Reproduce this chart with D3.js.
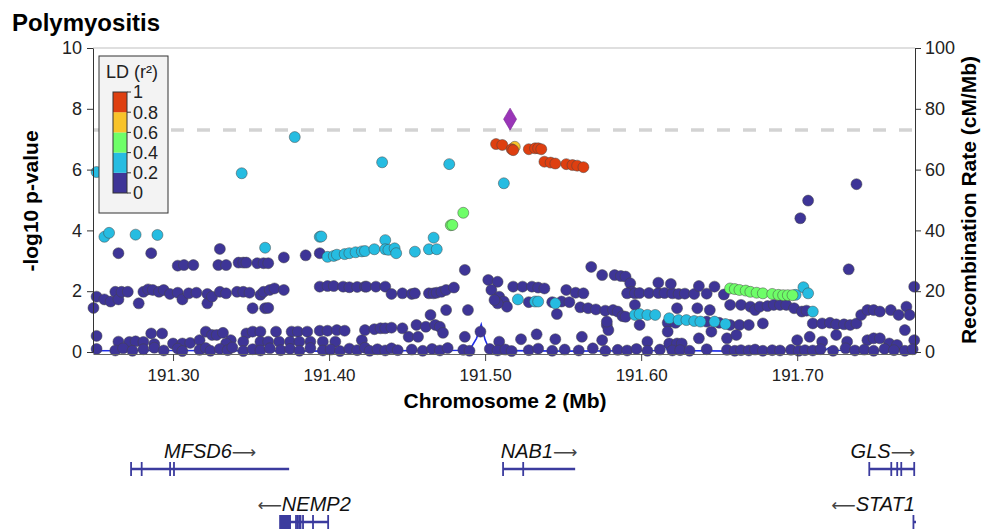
<!DOCTYPE html>
<html>
<head>
<meta charset="utf-8">
<script src="https://cdn.jsdelivr.net/npm/d3@7"></script>
<style>
  body { margin: 0; background: #fff; }
  svg { font-family: "Liberation Sans", Arial, Helvetica, sans-serif; }
</style>
</head>
<body>
<div id="chart"></div>
<script>
// ------------------- DATA ----------------------
// SNPs as [position (Mb), -log10 p], grouped by LD bin with the lead SNP
const ld0 = [
  [191.265,3.25],[191.286,3.25],[191.330,3.39],[191.371,3.11],[191.385,3.18],[191.394,3.25],
  [191.303,2.84],[191.307,2.86],[191.313,2.86],[191.329,2.86],[191.334,2.86],[191.342,2.94],[191.345,2.94],
  [191.347,2.94],[191.354,2.92],[191.358,2.92],[191.361,2.92],
  [191.251,1.82],[191.256,1.73],[191.260,1.66],[191.263,1.98],[191.265,1.73],[191.267,1.98],[191.271,1.98],
  [191.278,1.60],[191.281,1.98],[191.284,2.06],[191.287,2.04],[191.291,1.98],[191.294,2.04],[191.298,1.91],
  [191.303,1.95],[191.306,1.73],[191.310,1.93],[191.315,1.95],[191.322,1.91],[191.322,1.60],[191.325,1.82],
  [191.330,1.98],[191.334,1.93],[191.341,1.98],[191.345,1.98],[191.349,1.95],[191.356,1.88],[191.358,1.98],
  [191.362,2.04],[191.365,2.09],[191.371,2.04],[191.351,1.44],[191.359,1.44],[191.361,1.45],[191.249,1.45],
  [191.394,2.15],[191.399,2.17],[191.403,2.17],[191.409,2.15],[191.413,2.13],[191.418,2.14],[191.423,2.15],
  [191.251,0.53],[191.265,0.34],[191.272,0.33],[191.276,0.35],[191.281,0.33],[191.286,0.61],[191.293,0.61],
  [191.288,0.26],[191.300,0.28],[191.306,0.28],[191.311,0.30],[191.317,0.39],[191.321,0.67],[191.325,0.56],
  [191.328,0.56],[191.332,0.63],[191.337,0.39],[191.334,0.28],[191.347,0.61],[191.351,0.67],[191.356,0.67],
  [191.345,0.34],[191.356,0.34],[191.361,0.34],[191.366,0.67],[191.376,0.67],[191.380,0.67],[191.386,0.67],
  [191.368,0.34],[191.375,0.34],[191.381,0.34],[191.388,0.34],[191.394,0.70],[191.399,0.70],[191.405,0.72],
  [191.410,0.70],[191.396,0.34],[191.404,0.34],[191.421,0.39],[191.423,0.72],
  [191.487,2.70],
  [191.424,2.15],[191.430,2.15],[191.436,2.15],[191.440,1.91],[191.447,1.93],[191.453,1.91],[191.455,1.93],
  [191.464,1.93],[191.467,1.93],[191.469,1.95],[191.472,1.98],[191.475,2.04],[191.480,2.12],
  [191.502,2.37],[191.508,2.31],[191.504,2.04],[191.509,1.82],[191.512,1.66],[191.514,1.49],[191.508,1.60],
  [191.506,1.71],[191.518,2.15],[191.524,2.15],[191.530,2.15],[191.534,2.12],[191.538,2.09],
  [191.552,2.04],[191.558,1.95],[191.563,1.93],
  [191.568,2.80],[191.575,2.53],[191.583,2.53],[191.587,2.50],[191.590,2.48],[191.593,2.26],[191.594,1.98],
  [191.528,1.64],[191.543,1.64],[191.549,1.66],[191.554,1.64],[191.546,1.25],
  [191.561,1.47],[191.566,1.44],[191.571,1.40],[191.577,1.36],[191.582,1.38],[191.585,1.33],[191.588,1.18],
  [191.590,1.16],[191.591,1.93],[191.596,1.93],[191.596,1.55],[191.578,0.89],[191.579,0.72],[191.578,1.00],
  [191.429,0.75],[191.433,0.78],[191.436,0.78],[191.440,0.80],[191.447,0.78],[191.456,0.89],[191.462,0.83],
  [191.468,0.89],[191.471,0.83],[191.473,0.63],[191.465,1.22],[191.475,1.38],[191.489,1.38],[191.451,0.50],
  [191.457,0.50],[191.487,0.50],[191.497,0.67],[191.509,0.34],[191.523,0.42],[191.533,0.58],[191.545,0.42],
  [191.562,0.50],[191.575,0.39],
  [191.738,5.52],[191.707,4.98],[191.702,4.40],[191.733,2.72],
  [191.599,1.94],[191.605,1.94],[191.611,1.94],[191.615,1.94],[191.620,1.93],[191.624,1.91],[191.628,1.92],
  [191.634,1.91],[191.642,1.92],[191.653,1.89],[191.611,2.28],[191.619,2.24],[191.637,2.17],[191.647,2.15],
  [191.657,1.55],[191.664,1.55],[191.670,1.49],[191.673,1.38],[191.676,1.49],[191.681,1.51],[191.685,1.55],
  [191.689,1.55],[191.693,1.55],[191.698,1.44],[191.703,1.33],[191.706,1.36],
  [191.623,1.44],[191.636,1.44],[191.644,1.38],
  [191.599,0.89],[191.617,0.96],[191.617,0.67],[191.622,0.96],[191.642,1.00],[191.650,0.96],[191.657,0.89],
  [191.663,0.89],[191.669,0.89],[191.678,0.94],
  [191.710,0.94],[191.716,0.94],[191.721,0.96],[191.725,0.91],[191.730,0.91],[191.734,0.89],[191.738,0.94],
  [191.741,1.22],[191.745,1.38],[191.749,1.38],[191.753,1.33],[191.760,1.38],[191.765,1.22],[191.770,1.49],
  [191.775,2.15],[191.772,1.22],[191.769,0.72],[191.775,0.39],
  [191.604,0.34],[191.618,0.28],[191.623,0.28],[191.626,0.28],[191.637,0.45],[191.645,0.67],[191.655,0.45],
  [191.661,0.56],[191.700,0.39],[191.708,0.50],[191.716,0.34],[191.725,0.56],[191.732,0.34],[191.745,0.39],
  [191.749,0.45],[191.753,0.45],[191.759,0.28],[191.764,0.23],
  // along the baseline
  [191.251,0.10],[191.263,0.05],[191.268,0.12],[191.274,0.04],[191.281,0.09],[191.288,0.14],[191.294,0.05],
  [191.303,0.11],[191.306,0.03],[191.317,0.07],[191.321,0.13],[191.324,0.04],[191.330,0.10],[191.335,0.06],
  [191.338,0.15],[191.345,0.03],[191.351,0.09],[191.356,0.05],[191.362,0.12],[191.369,0.06],[191.375,0.10],
  [191.381,0.04],[191.388,0.13],[191.396,0.05],[191.401,0.08],[191.407,0.03],[191.413,0.11],[191.418,0.06],
  [191.423,0.14],[191.426,0.04],[191.431,0.09],[191.436,0.05],[191.440,0.12],[191.444,0.06],[191.453,0.08],
  [191.460,0.04],[191.466,0.10],[191.471,0.05],[191.476,0.13],[191.486,0.07],[191.490,0.04],[191.503,0.10],
  [191.508,0.05],[191.513,0.08],[191.517,0.03],[191.528,0.06],[191.534,0.11],[191.543,0.04],[191.551,0.08],
  [191.560,0.05],[191.569,0.12],[191.577,0.04],[191.585,0.07],[191.591,0.05],[191.597,0.10],[191.604,0.04],
  [191.612,0.08],[191.620,0.05],[191.625,0.06],[191.631,0.04],[191.642,0.09],[191.655,0.07],[191.660,0.04],
  [191.664,0.06],[191.669,0.05],[191.673,0.08],[191.678,0.04],[191.684,0.06],[191.689,0.05],[191.696,0.07],
  [191.701,0.04],[191.705,0.06],[191.710,0.05],[191.715,0.09],[191.723,0.04],[191.731,0.12],[191.737,0.05],
  [191.743,0.08],[191.749,0.04],[191.756,0.10],[191.762,0.06],[191.769,0.04],[191.774,0.09]
];
const ld2 = [
  [191.251,5.92],[191.344,5.88],[191.378,7.07],[191.434,6.24],[191.477,6.18],[191.512,5.55],
  [191.256,3.79],[191.259,3.92],[191.276,3.86],[191.290,3.85],[191.394,3.79],[191.395,3.80],[191.359,3.43],
  [191.399,3.13],[191.403,3.16],[191.405,3.20],[191.410,3.22],[191.413,3.25],[191.417,3.28],[191.421,3.31],
  [191.423,3.32],[191.429,3.38],[191.436,3.68],[191.436,3.38],[191.438,3.36],[191.442,3.41],[191.443,3.25],
  [191.455,3.30],[191.464,3.38],[191.467,3.76],[191.469,3.38],
  [191.521,1.73],[191.532,1.66],[191.534,1.66],[191.545,1.60],
  [191.596,1.22],[191.599,1.25],[191.604,1.22],[191.609,1.22],
  [191.618,1.11],[191.624,1.05],[191.629,1.05],[191.634,1.02],[191.638,1.00],[191.647,1.00],[191.654,0.92],
  [191.699,1.88],[191.704,2.13],[191.707,1.93],[191.710,1.33]
];
const ld4 = [
  [191.486,4.58],[191.478,4.17],[191.479,4.18],
  [191.657,2.09],[191.660,2.07],[191.663,2.04],[191.667,2.02],[191.670,1.98],[191.674,1.95],[191.678,1.93],
  [191.684,1.91],[191.688,1.88],[191.691,1.87],[191.694,1.87],[191.697,1.87]
];
const ld6 = [[191.519,6.75]];
const ld8 = [
  [191.507,6.84],[191.511,6.81],[191.517,6.67],[191.518,6.64],[191.528,6.67],[191.532,6.70],[191.534,6.70],
  [191.536,6.67],[191.538,6.26],[191.542,6.23],[191.545,6.20],[191.552,6.18],[191.556,6.15],[191.559,6.13],
  [191.563,6.08]
];
const leadSnp = [191.516, 7.66];

const ldBins = [ld0, ld2, ld4, ld6, ld8];
const ldColors = ["#3e3597", "#26bce1", "#6efe68", "#f8c32a", "#de3f10"];
const ldTicks = [0, 0.2, 0.4, 0.6, 0.8, 1];

const recombPos = [191.249,191.300,191.330,191.400,191.470,191.490,191.4945,191.4975,191.500,191.503,191.550,
                   191.600,191.613,191.615,191.617,191.660,191.700,191.718,191.7205,191.723,191.776];
const recombRate = [0.4,0.5,0.4,0.3,0.5,0.6,4.5,9.0,4.0,0.5,0.3,0.4,0.5,2.2,0.5,0.3,0.5,0.6,1.4,0.6,0.4];

const xTicks = [191.30, 191.40, 191.50, 191.60, 191.70];
const yTicks = [0, 2, 4, 6, 8, 10];
const recombTicks = [0, 20, 40, 60, 80, 100];
const sigLine = 7.3;

const geneNames  = ["MFSD6", "NEMP2", "NAB1", "GLS", "STAT1"];
const geneStart  = [191.2731, 191.3686, 191.5115, 191.7462, 191.7745];
const geneEnd    = [191.3744, 191.3994, 191.5577, 191.7755, 191.8200];
const geneStrand = ["+", "-", "+", "+", "-"];
const geneRow    = [0, 1, 0, 0, 1];
const geneExons  = [
  [[191.2731,191.2731],[191.2799,191.2799],[191.2981,191.2981],[191.3006,191.3006]],
  [[191.3686,191.3750],[191.3788,191.3788],[191.3798,191.3798],[191.3808,191.3808],[191.3817,191.3817],
   [191.3833,191.3833],[191.3897,191.3897],[191.3994,191.3994]],
  [[191.5115,191.5115],[191.5244,191.5244]],
  [[191.7462,191.7462],[191.7603,191.7603],[191.7641,191.7641],[191.7667,191.7667],[191.7750,191.7750]],
  [[191.7745,191.7745]]
];

// ------------------- LAYOUT ----------------------
const W = 987, H = 532;
const pLeft = 93, pRight = 915, pTop = 48, pBottom = 352;
const rowY = [469, 522];

let svg = d3.select("#chart").append("svg")
            .attr("width", W)
            .attr("height", H);

let x = d3.scaleLinear().domain([191.2487, 191.7755]).range([pLeft, pRight]);
let y = d3.scaleLinear().domain([0, 10]).range([pBottom, pTop]);
let yR = d3.scaleLinear().domain([0, 100]).range([pBottom, pTop]);

// title
svg.append("text")
   .attr("x", 12).attr("y", 31)
   .style("font-size", "24px").style("font-weight", "bold")
   .text("Polymyositis");

// top frame line
svg.append("line")
   .attr("x1", pLeft).attr("x2", pRight).attr("y1", pTop).attr("y2", pTop)
   .style("stroke", "#d4d4d4").style("stroke-width", 1.5);

// significance line
svg.append("line")
   .attr("x1", pLeft).attr("x2", pRight).attr("y1", y(sigLine)).attr("y2", y(sigLine))
   .style("stroke", "#d3d3d3").style("stroke-width", 3.5).style("stroke-dasharray", "13,13");

// recombination rate
svg.append("path")
   .datum(recombPos.map((p, i) => [p, recombRate[i]]))
   .attr("d", d3.line().x(d => x(d[0])).y(d => yR(d[1])))
   .style("fill", "none").style("stroke", "#1f2de8").style("stroke-width", 1.6);

// SNPs, low LD first
ldBins.forEach((bin, i) => {
  svg.append("g").selectAll("circle")
     .data(bin)
     .enter()
     .append("circle")
     .attr("cx", d => x(d[0]))
     .attr("cy", d => y(d[1]))
     .attr("r", 5.5)
     .style("fill", ldColors[i])
     .style("stroke", "rgba(70,70,70,0.55)")
     .style("stroke-width", 0.9);
});

// lead SNP diamond
svg.append("path")
   .attr("d", "M0,-11L6.5,0L0,11L-6.5,0Z")
   .attr("transform", "translate(" + x(leadSnp[0]) + "," + y(leadSnp[1]) + ")")
   .style("fill", "#9a35b8").style("stroke", "#7a2a95").style("stroke-width", 0.6);

// axes
let axisFont = g => g.selectAll("text").style("font-size", "18px").style("fill", "#222");

svg.append("g")
   .attr("transform", "translate(0," + (pBottom + 2) + ")")
   .call(d3.axisBottom(x).tickValues(xTicks).tickFormat(d3.format(".2f")).tickSize(7).tickSizeOuter(0).tickPadding(8))
   .call(axisFont)
   .call(g => g.selectAll("text").style("font-size", "17px"))
   .call(g => g.select(".domain").style("stroke", "#666"))
   .call(g => g.selectAll(".tick line").style("stroke", "#444"));

svg.append("g")
   .attr("transform", "translate(" + pLeft + ",0)")
   .call(d3.axisLeft(y).tickValues(yTicks).tickSize(6).tickSizeOuter(0).tickPadding(5))
   .call(axisFont)
   .call(g => g.selectAll("line, .domain").style("stroke", "#333"));

svg.append("g")
   .attr("transform", "translate(" + pRight + ",0)")
   .call(d3.axisRight(yR).tickValues(recombTicks).tickSize(6).tickSizeOuter(0).tickPadding(4))
   .call(axisFont)
   .call(g => g.selectAll("line, .domain").style("stroke", "#333"));

// axis titles
svg.append("text")
   .attr("x", 505).attr("y", 408)
   .attr("text-anchor", "middle")
   .style("font-size", "21px").style("font-weight", "bold")
   .text("Chromosome 2 (Mb)");

svg.append("text")
   .attr("transform", "translate(38," + 201 + ") rotate(-90)")
   .attr("text-anchor", "middle")
   .style("font-size", "21px").style("font-weight", "bold")
   .text("-log10 p-value");

svg.append("text")
   .attr("transform", "translate(976," + 200 + ") rotate(-90)")
   .attr("text-anchor", "middle")
   .style("font-size", "21px").style("font-weight", "bold")
   .text("Recombination Rate (cM/Mb)");

// legend
let legend = svg.append("g");
legend.append("rect")
      .attr("x", 99).attr("y", 56).attr("width", 69).attr("height", 157)
      .style("fill", "#f3f3f3").style("stroke", "#333").style("stroke-width", 1);
legend.append("text")
      .attr("x", 106).attr("y", 78)
      .style("font-size", "18px").style("fill", "#222")
      .text("LD (r²)");

let ly = d3.scaleLinear().domain([0, 1]).range([193, 92]);
legend.selectAll(".bin")
      .data(ldColors)
      .enter()
      .append("rect")
      .attr("x", 113)
      .attr("y", (c, i) => ly(ldTicks[i + 1]))
      .attr("width", 14)
      .attr("height", (c, i) => ly(ldTicks[i]) - ly(ldTicks[i + 1]))
      .style("fill", c => c);
legend.append("rect")
      .attr("x", 113).attr("y", ly(1)).attr("width", 14).attr("height", ly(0) - ly(1))
      .style("fill", "none").style("stroke", "#333").style("stroke-width", 1);
legend.selectAll(".tk")
      .data(ldTicks)
      .enter()
      .append("line")
      .attr("x1", 127).attr("x2", 131)
      .attr("y1", d => ly(d)).attr("y2", d => ly(d))
      .style("stroke", "#333");
legend.selectAll(".lb")
      .data(ldTicks)
      .enter()
      .append("text")
      .attr("x", 133)
      .attr("y", d => ly(d))
      .attr("dy", "0.36em")
      .style("font-size", "18px").style("fill", "#222")
      .text(d => d3.format("")(d));

// genes
svg.append("clipPath").attr("id", "geneClip")
   .append("rect").attr("x", pLeft).attr("y", 420).attr("width", pRight - pLeft + 1).attr("height", 112);

let genes = svg.append("g");
let geneBody = genes.append("g").attr("clip-path", "url(#geneClip)");
geneNames.forEach((name, i) => {
  let gy = rowY[geneRow[i]];
  geneBody.append("line")
          .attr("x1", x(geneStart[i])).attr("x2", x(geneEnd[i]))
          .attr("y1", gy).attr("y2", gy)
          .style("stroke", "#3b3b9e").style("stroke-width", 2.5);
  geneBody.selectAll(null)
          .data(geneExons[i])
          .enter()
          .append("rect")
          .attr("x", e => x(e[0]) - 0.9)
          .attr("y", gy - 7)
          .attr("width", e => Math.max(1.8, x(e[1]) - x(e[0]) + 1.8))
          .attr("height", 14)
          .style("fill", "#3b3b9e");

  let label = genes.append("text")
                   .attr("x", x((geneStart[i] + geneEnd[i]) / 2))
                   .attr("y", gy - 11)
                   .attr("text-anchor", "middle")
                   .style("font-size", "20px").style("fill", "#111");
  if (geneStrand[i] == "-") label.append("tspan").style("fill", "#444").style("font-family", "DejaVu Sans").style("font-size", "17px").text("\u27F5");
  label.append("tspan").style("font-style", "italic").text(name);
  if (geneStrand[i] == "+") label.append("tspan").style("fill", "#444").style("font-family", "DejaVu Sans").style("font-size", "17px").text("\u27F6");

  let w = label.node().getComputedTextLength();
  let cx = x((geneStart[i] + geneEnd[i]) / 2);
  if (cx + w / 2 > pRight) label.attr("x", pRight).attr("text-anchor", "end");
  else if (cx - w / 2 < pLeft) label.attr("x", pLeft).attr("text-anchor", "start");
});
</script>
</body>
</html>
